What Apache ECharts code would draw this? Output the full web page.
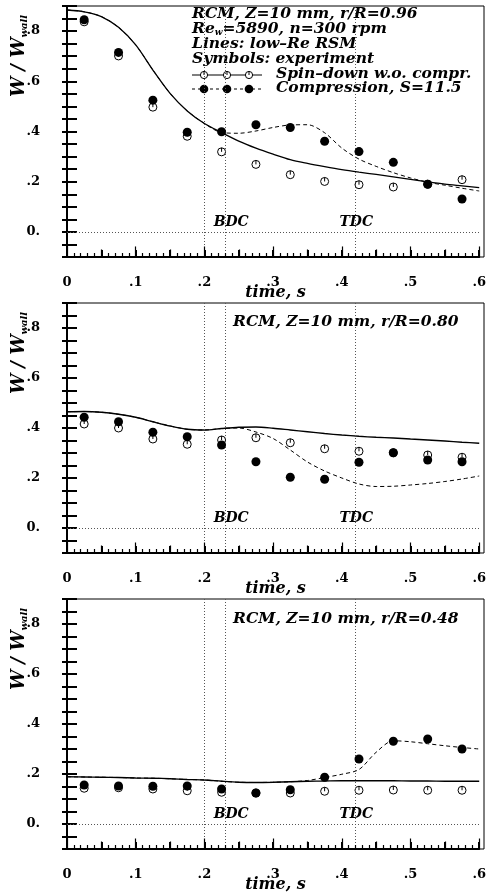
<!DOCTYPE html>
<html>
<head>
<meta charset="utf-8">
<script src="https://cdn.jsdelivr.net/npm/echarts@6/dist/echarts.min.js"></script>
<style>
  html, body { margin: 0; padding: 0; background: #fff; }
  #chart { width: 489px; height: 892px; }
</style>
</head>
<body>
<div id="chart"></div>
<script>
// experiment times (symbols) and simulation times (lines)
const tExp = [0.025, 0.075, 0.125, 0.175, 0.225, 0.275, 0.325, 0.375, 0.425, 0.475, 0.525, 0.575]
const tSim = [0, 0.025, 0.05, 0.075, 0.1, 0.125, 0.15, 0.175, 0.2, 0.225, 0.25, 0.275, 0.3,
  0.325, 0.35, 0.375, 0.4, 0.425, 0.45, 0.475, 0.5, 0.525, 0.55, 0.575, 0.6]

// r/R = 0.96
const open1 = [0.837, 0.701, 0.497, 0.381, 0.319, 0.269, 0.228, 0.201, 0.188, 0.179, 0.19, 0.208]
const filled1 = [0.845, 0.715, 0.525, 0.397, 0.399, 0.427, 0.416, 0.361, 0.32, 0.277, 0.19, 0.131]
const spin1 = [0.884, 0.877, 0.858, 0.815, 0.745, 0.645, 0.552, 0.482, 0.432, 0.396, 0.362, 0.334, 0.31,
  0.288, 0.273, 0.26, 0.248, 0.238, 0.229, 0.219, 0.209, 0.199, 0.19, 0.183, 0.176]
const comp1 = [0.884, 0.877, 0.858, 0.815, 0.745, 0.645, 0.552, 0.482, 0.432, 0.396, 0.393, 0.402, 0.416,
  0.426, 0.427, 0.395, 0.334, 0.29, 0.261, 0.236, 0.215, 0.198, 0.186, 0.174, 0.163]

// r/R = 0.80
const open2 = [0.416, 0.4, 0.356, 0.335, 0.352, 0.361, 0.341, 0.317, 0.307, 0.301, 0.292, 0.283]
const filled2 = [0.443, 0.425, 0.383, 0.365, 0.332, 0.265, 0.203, 0.195, 0.263, 0.301, 0.272, 0.265]
const spin2 = [0.465, 0.466, 0.463, 0.455, 0.443, 0.425, 0.408, 0.395, 0.392, 0.398, 0.403, 0.404, 0.399,
  0.392, 0.385, 0.378, 0.372, 0.367, 0.363, 0.36, 0.356, 0.352, 0.348, 0.343, 0.339]
const comp2 = [0.465, 0.466, 0.463, 0.455, 0.443, 0.425, 0.408, 0.395, 0.392, 0.398, 0.4, 0.384, 0.358,
  0.312, 0.264, 0.228, 0.2, 0.176, 0.166, 0.167, 0.172, 0.178, 0.186, 0.196, 0.208]

// r/R = 0.48
const open3 = [0.143, 0.145, 0.14, 0.133, 0.127, 0.124, 0.124, 0.131, 0.135, 0.136, 0.135, 0.135]
const filled3 = [0.156, 0.152, 0.151, 0.152, 0.14, 0.124, 0.137, 0.187, 0.26, 0.331, 0.34, 0.3]
const spin3 = [0.189, 0.188, 0.187, 0.186, 0.184, 0.183, 0.181, 0.178, 0.176, 0.171, 0.167, 0.166, 0.167,
  0.169, 0.171, 0.172, 0.173, 0.173, 0.173, 0.173, 0.172, 0.172, 0.171, 0.171, 0.171]
const comp3 = [0.189, 0.188, 0.187, 0.186, 0.184, 0.183, 0.181, 0.178, 0.176, 0.171, 0.167, 0.166, 0.167,
  0.169, 0.174, 0.186, 0.199, 0.218, 0.287, 0.333, 0.329, 0.321, 0.313, 0.306, 0.3]

// piston positions (dotted verticals) and their labels
const markTimes = [0.2, 0.235, 0.42]
const cycleLabels = ['BDC', 'TDC']
const cycleLabelPos = [[0.239, 0.04], [0.421, 0.04]]

const xTicks = ['0', '.1', '.2', '.3', '.4', '.5', '.6']
const yTicks = ['0.', '.2', '.4', '.6', '.8']

const panelTitles = ['RCM, Z=10 mm, r/R=0.96', 'RCM, Z=10 mm, r/R=0.80', 'RCM, Z=10 mm, r/R=0.48']
const panels = [
  { open: open1, filled: filled1, spin: spin1, comp: comp1 },
  { open: open2, filled: filled2, spin: spin2, comp: comp2 },
  { open: open3, filled: filled3, spin: spin3, comp: comp3 }
]
const gridTops = [6, 303, 599]
const gridH = [251, 250, 250]
const GL = 67
const GR = 484
const Y_MIN = -0.1

const SERIF = 'DejaVu Serif'
const openSymbol = 'path://M0,5 A5,5 0 1,1 10,5 A5,5 0 1,1 0,5 Z M5,0 L5,5'

function zip(xs, ys) {
  return xs.map((x, i) => [x, ys[i]])
}

// ruler ticks along the time axis: tall at 0.1, medium at 0.05, short at 0.01
function rulerTicks() {
  const out = []
  for (let k = 0; k <= 60; k++) {
    const h = k % 10 === 0 ? 0.042 : (k % 5 === 0 ? 0.03 : 0.016)
    out.push([{ coord: [k / 100, Y_MIN] }, { coord: [k / 100, Y_MIN + h] }])
  }
  return out
}

const grid = []
const xAxis = []
const yAxis = []
const series = []
const graphic = []

panels.forEach((p, i) => {
  grid.push({ left: GL, right: 489 - GR, top: gridTops[i], height: gridH[i] })
  // plot frame
  graphic.push({
    type: 'rect', silent: true, z: -1,
    shape: { x: GL, y: gridTops[i], width: GR - GL, height: gridH[i] },
    style: { fill: null, stroke: '#000', lineWidth: 1 }
  })
  xAxis.push({
    gridIndex: i, type: 'value', min: 0, max: 0.6, interval: 0.05,
    axisLine: { show: true, onZero: false, lineStyle: { color: '#000', width: 2 } },
    axisTick: { show: true, inside: true, length: 7, lineStyle: { color: '#000', width: 2 } },
    minorTick: { show: true, splitNumber: 5, length: 4, lineStyle: { color: '#000', width: 1 } },
    splitLine: { show: false },
    axisLabel: {
      margin: 19, fontFamily: SERIF, fontWeight: 'bold', fontSize: 13, color: '#000',
      formatter: v => {
        const k = Math.round(v * 10)
        return Math.abs(v * 10 - k) < 1e-6 ? xTicks[k] : ''
      }
    }
  })
  yAxis.push({
    gridIndex: i, type: 'value', min: Y_MIN, max: 0.9, interval: 0.05,
    axisLine: { show: true, onZero: false, lineStyle: { color: '#000', width: 2 } },
    axisTick: { show: true, inside: false, length: 5, lineStyle: { color: '#000', width: 2 } },
    splitLine: { show: false },
    axisLabel: {
      margin: 27, fontFamily: SERIF, fontWeight: 'bold', fontSize: 13, color: '#000',
      formatter: v => {
        const k = Math.round(v * 5)
        if (Math.abs(v * 5 - k) > 1e-6 || k < 0 || k > 4) return ''
        return yTicks[k]
      }
    }
  })
  yAxis.push({
    gridIndex: i, type: 'value', min: Y_MIN, max: 0.9, interval: 0.05, position: 'left', offset: 0,
    axisLine: { show: false, onZero: false },
    axisTick: { show: true, inside: true, length: 10, lineStyle: { color: '#000', width: 2 } },
    axisLabel: { show: false }, splitLine: { show: false }
  })

  const yi = i * 2
  series.push({
    type: 'line', xAxisIndex: i, yAxisIndex: yi, data: zip(tSim, p.spin),
    showSymbol: false, smooth: 0.3, lineStyle: { color: '#000', width: 1.3 }, z: 3,
    markLine: {
      silent: true, symbol: 'none', animation: false,
      label: { show: false },
      lineStyle: { color: '#555', type: [1, 2], width: 1 },
      data: markTimes.map(t => ({ xAxis: t })).concat([{ yAxis: 0 }])
    },
    markPoint: {
      silent: true, symbol: 'circle', symbolSize: 0, animation: false,
      label: {
        show: true, position: 'inside', formatter: '{b}',
        fontFamily: SERIF, fontWeight: 'bold', fontStyle: 'italic', fontSize: 14, color: '#000'
      },
      data: cycleLabels.map((n, k) => ({ name: n, coord: cycleLabelPos[k] }))
    }
  })
  series.push({
    type: 'line', xAxisIndex: i, yAxisIndex: yi, data: zip(tSim, p.comp),
    showSymbol: false, smooth: 0.3, lineStyle: { color: '#000', width: 1, type: [4, 3] }, z: 3,
    markLine: {
      silent: true, symbol: 'none', animation: false,
      label: { show: false },
      lineStyle: { color: '#000', type: 'solid', width: 1.2 },
      data: rulerTicks()
    }
  })
  series.push({
    type: 'scatter', xAxisIndex: i, yAxisIndex: yi, data: zip(tExp, p.open),
    symbol: openSymbol, symbolSize: 8,
    itemStyle: { color: '#fff', borderColor: '#000', borderWidth: 1, opacity: 1 }, z: 4
  })
  series.push({
    type: 'scatter', xAxisIndex: i, yAxisIndex: yi, data: zip(tExp, p.filled),
    symbol: 'circle', symbolSize: 9, itemStyle: { color: '#000', opacity: 1 }, z: 5
  })

  // x-axis title
  graphic.push({
    type: 'text', x: (GL + GR) / 2, y: gridTops[i] + gridH[i] + 28,
    style: {
      text: 'time, s', align: 'center', verticalAlign: 'top',
      fontFamily: SERIF, fontWeight: 'bold', fontStyle: 'italic', fontSize: 16, fill: '#000'
    }
  })
  // rotated y-axis title
  graphic.push({
    type: 'text', x: 19, y: gridTops[i] + 50, rotation: Math.PI / 2,
    style: {
      text: 'W / W{s|wall}', align: 'center', verticalAlign: 'middle',
      fontFamily: SERIF, fontWeight: 'bold', fontStyle: 'italic', fontSize: 18, fill: '#000',
      rich: { s: { fontFamily: SERIF, fontWeight: 'bold', fontStyle: 'italic', fontSize: 10, padding: [11, 0, 0, 0] } }
    }
  })
})

const noteFont = { fontFamily: SERIF, fontWeight: 'bold', fontStyle: 'italic', fontSize: 15.5, fill: '#000' }

// panel 1 annotation block
const noteLines = [
  panelTitles[0],
  'Re{s|w}=5890, n=300 rpm',
  'Lines: low\u2013Re RSM',
  'Symbols: experiment'
]
noteLines.forEach((t, k) => {
  graphic.push({
    type: 'text', left: 192, top: 6 + k * 15,
    style: Object.assign({ text: t, rich: { s: { fontFamily: SERIF, fontWeight: 'bold', fontStyle: 'italic', fontSize: 9, padding: [8, 0, 0, 0] } } }, noteFont)
  })
})
graphic.push({ type: 'text', left: 276, top: 66, style: Object.assign({ text: 'Spin\u2013down w.o. compr.' }, noteFont) })
graphic.push({ type: 'text', left: 276, top: 80, style: Object.assign({ text: 'Compression, S=11.5' }, noteFont) })

// legend samples
const legendX = [204, 227, 249]
graphic.push({ type: 'line', shape: { x1: 192, y1: 75, x2: 262, y2: 75 }, style: { stroke: '#000', lineWidth: 1.2 } })
graphic.push({ type: 'line', shape: { x1: 192, y1: 89, x2: 262, y2: 89 }, style: { stroke: '#000', lineWidth: 1, lineDash: [3, 3] } })
legendX.forEach(x => {
  graphic.push({ type: 'circle', shape: { cx: x, cy: 75, r: 3.6 }, style: { fill: '#fff', stroke: '#000', lineWidth: 1 } })
  graphic.push({ type: 'line', shape: { x1: x, y1: 71.4, x2: x, y2: 75 }, style: { stroke: '#000', lineWidth: 1 } })
  graphic.push({ type: 'circle', shape: { cx: x, cy: 89, r: 4.3 }, style: { fill: '#000' } })
})

// panel 2 and 3 titles
graphic.push({ type: 'text', left: 233, top: 314, style: Object.assign({ text: panelTitles[1] }, noteFont) })
graphic.push({ type: 'text', left: 233, top: 611, style: Object.assign({ text: panelTitles[2] }, noteFont) })

const chart = echarts.init(document.getElementById('chart'))
chart.setOption({
  animation: false,
  backgroundColor: '#fff',
  grid: grid,
  xAxis: xAxis,
  yAxis: yAxis,
  series: series,
  graphic: graphic
})
</script>
</body>
</html>
